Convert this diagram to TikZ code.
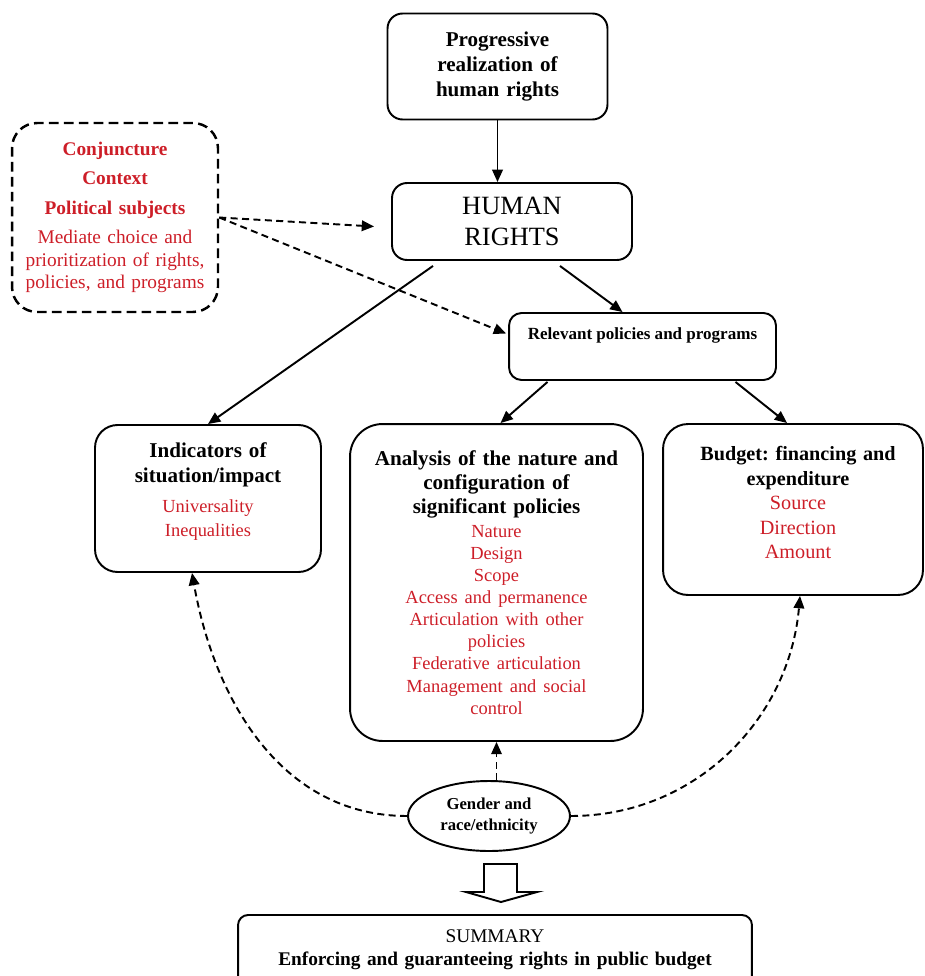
\documentclass[tikz,border=0pt]{standalone}
\usepackage{fontspec}
\setmainfont{Liberation Serif}
\usepackage{tikz}
\usetikzlibrary{arrows.meta,positioning,shapes.geometric}

\definecolor{notered}{RGB}{205,30,40}
\newcommand{\rednote}[1]{{\color{notered}\mdseries #1}}
\frenchspacing

\begin{document}
\begin{tikzpicture}[
    x=0.02cm, y=0.02cm,
    >={Triangle[length=7pt,width=6pt]},
    flowline/.style={->, line width=1.1pt, draw=black},
    dashflow/.style={flowline, dash pattern=on 4pt off 2.5pt},
    box/.style={
      draw=black,
      line width=1.1pt,
      rounded corners=0.3cm,
      align=center,
      inner sep=2pt
    },
    dashbox/.style={box, line width=1.4pt, dash pattern=on 5.5pt off 3pt},
    txt/.style={align=center, inner sep=0pt},
    hollow/.style={draw=black, line width=1.1pt, line join=miter}
  ]
    \useasboundingbox (0,0) rectangle (924,-976);

    \node[box, minimum width=4.4cm, minimum height=2.12cm, text width=3.8cm,
      font=\fontsize{12}{14}\selectfont\bfseries] (prog) at (497.5,-66.5)
      {Progressive\\realization of\\human rights};
    \node[box, minimum width=4.8cm, minimum height=1.54cm, text width=4.2cm,
      font=\fontsize{15}{18}\selectfont] (hr) at (512,-221.5) {HUMAN\\RIGHTS};
    \node[dashbox, rounded corners=0.5cm, minimum width=4.12cm, minimum height=3.78cm,
      text width=3.95cm, font=\fontsize{11}{12.8}\selectfont] (ctx) at (115,-217.5) {
      \rednote{\bfseries Conjuncture\\[3.9pt] Context\\[3.9pt] Political subjects}\\[4.2pt]
      \rednote{Mediate choice and\\ prioritization of rights,\\ policies, and programs}
    };

    \node[box, rounded corners=0.25cm, minimum width=5.34cm, minimum height=1.34cm]
      (relevant) at (642.5,-346.5) {};
    \node[txt, font=\fontsize{9.7}{12}\selectfont\bfseries] (relevanttxt) at (642.5,-335)
      {Relevant policies and programs};

    \node[box, rounded corners=0.45cm, minimum width=4.52cm, minimum height=2.94cm]
      (indic) at (208,-498.5) {};
    \node[txt, text width=4.2cm, font=\fontsize{12}{13.6}\selectfont\bfseries]
      (indictxt) at (208,-491.5) {
      Indicators of\\[0.6pt] situation/impact\\[3.4pt]
      \rednote{\fontsize{10.5}{13.6}\selectfont Universality\\ Inequalities}
    };

    \node[box, rounded corners=0.65cm, minimum width=5.86cm, minimum height=6.34cm,
      text width=5.5cm, font=\fontsize{12}{12.6}\selectfont\bfseries]
      (analysis) at (496.5,-582.5) {
      Analysis of the nature and\\[1pt] configuration of\\[1pt] significant policies\\[1pt]
      \rednote{\fontsize{10.5}{12.6}\selectfont Nature\\ Design\\ Scope\\
        Access and permanence\\ Articulation with other\\ policies\\
        Federative articulation\\ Management and social\\ control}
    };

    \node[box, rounded corners=0.5cm, minimum width=5.2cm, minimum height=3.42cm]
      (budget) at (793,-509.5) {};
    \node[txt, text width=4.8cm, font=\fontsize{11.5}{13.9}\selectfont\bfseries]
      (budgettxt) at (798,-502.5) {
      Budget: financing and\\[0.3pt] expenditure\\
      \rednote{\fontsize{11.5}{13.9}\selectfont Source\\ Direction\\ Amount}
    };

    \node[draw=black, ellipse, line width=1.1pt, minimum width=3.24cm, minimum height=1.4cm,
      inner sep=0pt, align=center, font=\fontsize{9.5}{11.5}\selectfont\bfseries]
      (gender) at (489,-816) {Gender and\\race/ethnicity};

    \node[box, rounded corners=0.2cm, minimum width=10.28cm, minimum height=1.4cm,
      text width=10cm, font=\fontsize{11}{13}\selectfont] (summary) at (495,-950)
      {SUMMARY\\ \textbf{Enforcing and guaranteeing rights in public budget}};

    % solid links
    \draw[flowline] (prog.south) -- (prog.south |- hr.north);
    \draw[flowline] ([shift={(48,-5)}]hr.south) -- ([shift={(-20,0)}]relevant.north);
    \draw[flowline] ([shift={(-79,-5)}]hr.south) -- (indic.north);
    \draw[flowline] ([shift={(-95,-1)}]relevant.south) -- ([shift={(4,0)}]analysis.north);
    \draw[flowline] ([shift={(93,-1)}]relevant.south) -- ([shift={(-6,0)}]budget.north);

    % dashed links
    \draw[dashflow] (ctx.east) -- ([shift={(-17,-5)}]hr.west);
    \draw[dashflow] (ctx.east) -- ([shift={(-2,13)}]relevant.west);
    \draw[dashflow] (gender.north -| analysis.south) -- (analysis.south);
    \draw[dashflow] (gender.west) to[out=180, in=-80] ([shift={(-16,0)}]indic.south);
    \draw[dashflow] (gender.east) to[out=0, in=-95] ([shift={(7,0)}]budget.south);

    % block arrow to summary
    \draw[hollow] (484,-864) -- (517,-864) -- (517,-892) -- (537,-892) -- (501,-902)
      -- (466,-892) -- (484,-892) -- cycle;
  \end{tikzpicture}
\end{document}
